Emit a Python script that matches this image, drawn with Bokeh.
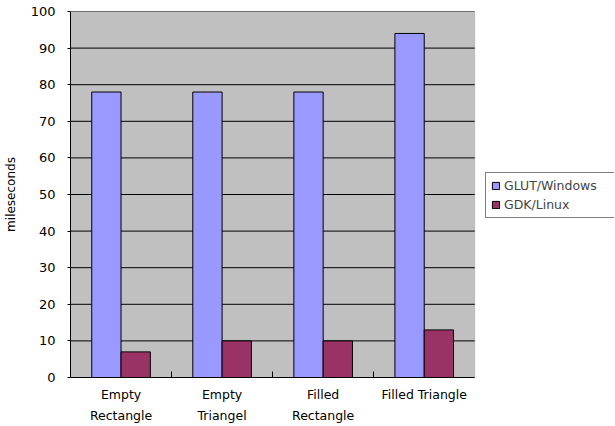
import numpy as np
from bokeh.plotting import figure
from bokeh.models import (ColumnDataSource, Range1d, FixedTicker, Legend, LegendItem,
                          BoxAnnotation)
from bokeh.embed import file_html
from bokeh.resources import INLINE

# Benchmark data (milliseconds per drawing test)
categories = ["Empty Rectangle", "Empty Triangel", "Filled Rectangle", "Filled Triangle"]
category_labels = ["Empty\nRectangle", "Empty\nTriangel", "Filled\nRectangle", "Filled Triangle"]
glut_windows = [78, 78, 78, 94]
gdk_linux = [7, 10, 10, 13]
y_ticks = [0, 10, 20, 30, 40, 50, 60, 70, 80, 90, 100]

FONT = "DejaVu Sans"
BAR_W = 0.29
W, H = 615, 426
LEFT, RIGHT, TOP, BOTTOM = 69, 1, 11, 49
PLOT_W = 405  # pixel width of the grey plotting area; the rest holds the legend

n = len(categories)
centers = np.arange(n) + 0.5
src = ColumnDataSource(dict(
    cat=categories,
    x_glut=centers - BAR_W / 2,
    x_gdk=centers + BAR_W / 2,
    glut=glut_windows,
    gdk=gdk_linux,
))

frame_w = W - LEFT - RIGHT
p = figure(width=W, height=H, output_backend="svg", toolbar_location=None,
           x_range=Range1d(0, n * frame_w / PLOT_W), y_range=Range1d(0, 100))
p.min_border_left = LEFT
p.min_border_right = RIGHT
p.min_border_top = TOP
p.min_border_bottom = BOTTOM
p.background_fill_color = "white"
p.border_fill_color = "white"
p.outline_line_color = None

# grey plotting area
p.add_layout(BoxAnnotation(left=0, right=n, bottom=0, top=100, level="image",
                           fill_color="#C0C0C0", fill_alpha=1.0,
                           line_color="#808080", line_width=1))

# horizontal gridlines limited to the plotting area
p.xgrid.grid_line_color = None
p.ygrid.grid_line_color = None
p.segment(x0=0, x1=n, y0=y_ticks, y1=y_ticks, line_color="black",
          line_width=1, level="underlay")

r1 = p.vbar(x="x_glut", top="glut", width=BAR_W, source=src,
            fill_color="#9999FF", line_color="black", line_width=1)
r2 = p.vbar(x="x_gdk", top="gdk", width=BAR_W, source=src,
            fill_color="#993366", line_color="black", line_width=1)

# y axis
p.yaxis.ticker = FixedTicker(ticks=y_ticks)
p.yaxis.axis_label = "mileseconds"
p.yaxis.axis_label_text_font = FONT
p.yaxis.axis_label_text_font_size = "12px"
p.yaxis.axis_label_text_font_style = "normal"
p.yaxis.axis_label_text_color = "black"
p.yaxis.axis_label_standoff = 10
p.yaxis.major_label_text_font = FONT
p.yaxis.major_label_text_font_size = "13px"
p.yaxis.major_label_text_color = "black"
p.yaxis.major_tick_out = 3
p.yaxis.major_tick_in = 0
p.yaxis.minor_tick_line_color = None
p.yaxis.axis_line_color = "black"
p.yaxis.major_label_standoff = 12

# x axis: labels at category centres, tick marks at category boundaries
p.xaxis.bounds = (0, n)
p.xaxis.ticker = FixedTicker(ticks=list(centers),
                             minor_ticks=list(np.arange(1, n)))
p.xaxis.major_label_overrides = {float(c): lab for c, lab in zip(centers, category_labels)}
p.xaxis.major_tick_line_color = None
p.xaxis.major_tick_out = 0
p.xaxis.major_tick_in = 0
p.xaxis.minor_tick_in = 6
p.xaxis.minor_tick_out = 0
p.xaxis.minor_tick_line_color = "black"
p.xaxis.axis_line_color = "black"
p.xaxis.major_label_text_font = FONT
p.xaxis.major_label_text_font_size = "12.5px"
p.xaxis.major_label_text_color = "black"
p.xaxis.major_label_text_line_height = 1.4
p.xaxis.major_label_standoff = 9

legend = Legend(items=[LegendItem(label="GLUT/Windows", renderers=[r1]),
                       LegendItem(label="GDK/Linux", renderers=[r2])],
                location=(PLOT_W + 10, 159))
legend.label_text_font = FONT
legend.label_text_font_size = "12.5px"
legend.label_width = 108
legend.border_line_color = "black"
legend.border_line_width = 1
legend.background_fill_color = "white"
legend.glyph_width = 9
legend.glyph_height = 9
legend.label_standoff = 4
legend.padding = 5
legend.spacing = 4
legend.margin = 0
legend.label_height = 15
p.add_layout(legend, "center")

open("out.html", "w").write(file_html(p, INLINE))
